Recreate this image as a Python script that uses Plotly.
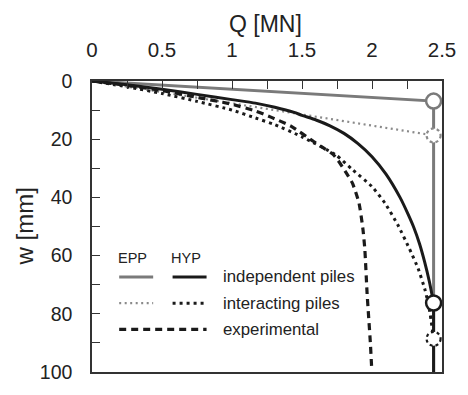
import plotly.graph_objects as go

# ---------------- data ----------------
# EPP model (elastic-perfectly-plastic)
q_epp_ind = [0, 2.44]
w_epp_ind = [0, 6.9]
q_epp_int = [0, 2.44]
w_epp_int = [0, 18.7]

# HYP model (hyperbolic)
q_hyp_ind = [0, 0.25, 0.5, 0.75, 1.0, 1.167, 1.306, 1.444, 1.5, 1.6, 1.7, 1.8, 1.9, 2.0,
             2.1, 2.2, 2.255, 2.3, 2.34, 2.375, 2.41, 2.44]
w_hyp_ind = [0, 1.3, 2.8, 4.6, 6.4, 7.6, 9.0, 10.8, 11.8, 13.4, 15.4, 18.0, 21.5, 26.0,
             32.0, 40.0, 45.5, 50.5, 56.0, 62.0, 69.0, 76.3]
q_hyp_int = [0, 0.25, 0.5, 0.75, 1.0, 1.167, 1.306, 1.5, 1.745, 1.861, 2.0,
             2.093, 2.185, 2.266, 2.33, 2.38, 2.41, 2.44]
w_hyp_int = [0, 2.0, 4.3, 7.0, 10.0, 12.7, 15.0, 19.2, 25.5, 30.5, 36.3,
             42.0, 49.5, 57.5, 64.5, 72.0, 78.5, 88.6]

# experimental
q_exp = [0, 0.25, 0.5, 0.75, 1.0, 1.167, 1.282, 1.421, 1.583, 1.653, 1.722,
         1.768, 1.815, 1.861, 1.907, 1.935, 1.949, 1.965, 1.988, 1.998]
w_exp = [0, 1.5, 3.3, 5.6, 8.0, 10.3, 12.5, 15.5, 20.8, 23.0, 25.2,
         28.0, 31.5, 35.2, 41.9, 50.8, 58.0, 73.0, 89.7, 99.0]

w_max = 100
x_ticks = [0, 0.5, 1, 1.5, 2, 2.5]
y_ticks = [0, 20, 40, 60, 80, 100]

GRAY = "#7a7a7a"
LGRAY = "#8a8a8a"
BLACK = "#1a1a1a"
FONT = "Arial, Liberation Sans, sans-serif"

fig = go.Figure()

# EPP independent (gray solid) + vertical plastic branch
fig.add_trace(go.Scatter(x=q_epp_ind + [q_epp_ind[-1]], y=w_epp_ind + [w_max],
                         mode="lines", line=dict(color=GRAY, width=3),
                         showlegend=False, hoverinfo="skip"))
# EPP interacting (gray dotted)
fig.add_trace(go.Scatter(x=q_epp_int, y=w_epp_int, mode="lines",
                         line=dict(color=LGRAY, width=2.2, dash="2px,3.5px"),
                         showlegend=False, hoverinfo="skip"))
# experimental (black dashed)
fig.add_trace(go.Scatter(x=q_exp, y=w_exp, mode="lines",
                         line=dict(color=BLACK, width=3.2, dash="7px,5px",
                                   shape="spline", smoothing=0.5),
                         showlegend=False, hoverinfo="skip"))
# HYP interacting (black dotted)
fig.add_trace(go.Scatter(x=q_hyp_int, y=w_hyp_int, mode="lines",
                         line=dict(color=BLACK, width=3, dash="3px,4px",
                                   shape="spline", smoothing=0.5),
                         showlegend=False, hoverinfo="skip"))
# HYP independent (black solid)
fig.add_trace(go.Scatter(x=q_hyp_ind, y=w_hyp_ind, mode="lines",
                         line=dict(color=BLACK, width=3, shape="spline", smoothing=0.5),
                         showlegend=False, hoverinfo="skip"))
fig.add_trace(go.Scatter(x=[q_hyp_ind[-1], q_hyp_ind[-1]], y=[w_hyp_ind[-1], w_max],
                         mode="lines", line=dict(color=BLACK, width=3),
                         showlegend=False, hoverinfo="skip"))

# end-point circles (solid)
fig.add_trace(go.Scatter(x=[q_epp_ind[-1]], y=[w_epp_ind[-1]], mode="markers",
                         marker=dict(size=15, color="white", line=dict(color=GRAY, width=2.5)),
                         showlegend=False, hoverinfo="skip"))
fig.add_trace(go.Scatter(x=[q_hyp_ind[-1]], y=[w_hyp_ind[-1]], mode="markers",
                         marker=dict(size=15, color="white", line=dict(color=BLACK, width=2.5)),
                         showlegend=False, hoverinfo="skip"))

shapes = []
# end-point circles (dotted)
for qx, wy, col in [(q_epp_int[-1], w_epp_int[-1], LGRAY), (q_hyp_int[-1], w_hyp_int[-1], BLACK)]:
    shapes.append(dict(type="circle", xref="x", yref="y", xsizemode="pixel", ysizemode="pixel",
                       xanchor=qx, yanchor=wy, x0=-7, x1=7, y0=-7, y1=7,
                       fillcolor="white", line=dict(color=col, width=2.2, dash="dot"),
                       layer="above"))

# ----- custom legend (paper coords derived from pixel positions) -----
L, R, T, B = 92, 452.5, 81, 381
def px(x):
    return (x - L) / (R - L)
def py(y):
    return (B - y) / (B - T)

def seg(x0, x1, y, color, width, dash="solid"):
    shapes.append(dict(type="line", xref="paper", yref="paper",
                       x0=px(x0), x1=px(x1), y0=py(y), y1=py(y),
                       line=dict(color=color, width=width, dash=dash)))

seg(120, 155, 283, GRAY, 3)
seg(175, 210, 283, BLACK, 3)
seg(120, 155, 310, LGRAY, 2.2, "2px,3.5px")
seg(175, 210, 310, BLACK, 3, "3px,4px")
seg(120, 210, 337, BLACK, 3.2, "7px,5px")

annotations = []
def txt(x, y, s, size=16, anchor="left", **kw):
    annotations.append(dict(text=s, x=px(x), y=py(y), xref="paper", yref="paper",
                            showarrow=False, xanchor=anchor, yanchor="middle",
                            font=dict(family=FONT, size=size, color="#222"), **kw))

txt(133.5, 263, "EPP", size=14.5, anchor="center")
txt(189, 263, "HYP", size=14.5, anchor="center")
txt(225, 283, "independent piles", size=16.8)
txt(225, 310, "interacting piles", size=16.8)
txt(225, 337, "experimental", size=16.8)

# axis titles
txt(271, 22, "Q [MN]", size=23, anchor="center")
txt(22.5, 231.5, "w [mm]", size=24, anchor="center", textangle=-90)

fig.update_layout(
    width=468, height=395,
    margin=dict(l=L, r=468 - R, t=T, b=395 - B),
    paper_bgcolor="white", plot_bgcolor="white",
    font=dict(family=FONT, color="#222"),
    shapes=shapes, annotations=annotations,
)
fig.update_xaxes(range=[0, 2.5], side="top", tickvals=x_ticks,
                 ticktext=[f"{v:g}" for v in x_ticks],
                 ticks="inside", ticklen=8, tickwidth=1.2, tickcolor="#333",
                 minor=dict(dtick=0.25, ticks="inside", ticklen=8, tickwidth=1.2, tickcolor="#333"),
                 showline=True, linecolor="#333", linewidth=1.5, mirror=True,
                 showgrid=False, zeroline=False,
                 tickfont=dict(family=FONT, size=20.5, color="#222"),
                 ticklabelstandoff=14)
fig.update_yaxes(range=[w_max, 0], tickvals=y_ticks,
                 ticks="inside", ticklen=8, tickwidth=1.2, tickcolor="#333",
                 minor=dict(dtick=10, ticks="inside", ticklen=8, tickwidth=1.2, tickcolor="#333"),
                 showline=True, linecolor="#333", linewidth=1.5, mirror=True,
                 showgrid=False, zeroline=False,
                 tickfont=dict(family=FONT, size=19.5, color="#222"),
                 ticklabelstandoff=14)

fig.write_html("out.html")
